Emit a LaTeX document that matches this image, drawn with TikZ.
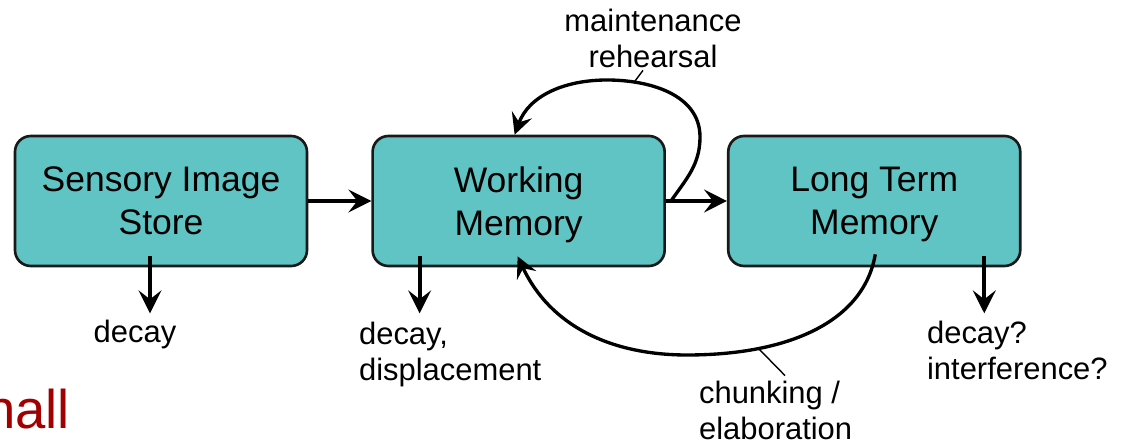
\documentclass[tikz,border=0pt]{standalone}
\usepackage{fontspec}
\setmainfont{Liberation Sans}
\usetikzlibrary{arrows.meta,positioning}

\definecolor{boxteal}{RGB}{96,196,196}
\definecolor{boxline}{RGB}{25,25,25}
\definecolor{titlered}{RGB}{160,0,0}

\begin{document}
\begin{tikzpicture}[->,>={Stealth[length=13pt,width=13pt,inset=5pt]},node distance=1.26cm,
  line width=2.4pt,
  store/.style={fill=boxteal,draw=boxline,line width=1.5pt,rounded corners=9pt,
    minimum width=5.84cm,minimum height=2.6cm,align=center,text depth=0pt,
    font=\fontsize{20.2}{24.4}\selectfont},
  note/.style={font=\fontsize{17.6}{21}\selectfont,inner sep=0pt},
  curve/.style={line width=1.9pt,>={Stealth[length=12pt,width=12pt,inset=4.5pt]}},
  leader/.style={-,line width=0.8pt}]

  \useasboundingbox (0,0) rectangle (22.42,8.92);

  \node[store] (sis) at (3.22,4.90) {Sensory Image\\Store};
  \node[store] [right=of sis] (wm) {Working\\Memory};
  \node[store] [right=1.22cm of wm] (ltm) {Long Term\\Memory};

  \node[note,anchor=base] (sisdecay) at (2.70,2.06) {decay};
  \node[note,anchor=base west,align=left] (wmdecay) at (7.14,1.30) {decay,\\displacement};
  \node[note,anchor=base west,align=left] (ltmdecay) at (18.50,1.32) {decay?\\interference?};
  \node[note,anchor=base west,align=left] (chunk) at (13.94,0.12) {chunking /\\elaboration};
  \node[note,anchor=base,align=center] (rehearse) at (13.06,7.56) {maintenance\\rehearsal};
  \node[anchor=base east,inner sep=0pt,text=titlered,font=\fontsize{31}{37}\selectfont] (title) at (1.44,0.34) {nall};

  \path
    (sis) edge (wm)
    (wm) edge (ltm);

  % losses
  \draw ([xshift=-0.22cm,yshift=0.22cm]sis.south) -- ([xshift=-0.22cm,yshift=-0.92cm]sis.south);
  \draw ([xshift=-1.98cm,yshift=0.22cm]wm.south) -- ([xshift=-1.98cm,yshift=-0.92cm]wm.south);
  \draw ([xshift=2.20cm,yshift=0.22cm]ltm.south) -- ([xshift=2.20cm,yshift=-0.92cm]ltm.south);

  % rehearsal loop
  \draw[curve] ([xshift=0.1cm]wm.east) to[out=55,in=-90] (14.00,6.18)
    to[out=90,in=0] (12.14,7.32) to[out=180,in=70] ([xshift=-0.08cm]wm.north);
  \draw[leader] ([xshift=-0.2cm]rehearse.south) -- (12.70,7.30);

  % retrieval
  \draw[curve] ([xshift=0.02cm,yshift=0.26cm]ltm.south) .. controls (17.28,2.50) and (15.80,1.82) .. (13.74,1.82)
    to[out=180,in=-65] ([xshift=-0.02cm,yshift=0.22cm]wm.south);
  \draw[leader] ([xshift=1.76cm,yshift=0.06cm]chunk.north west) -- (15.16,1.96);
\end{tikzpicture}
\end{document}
